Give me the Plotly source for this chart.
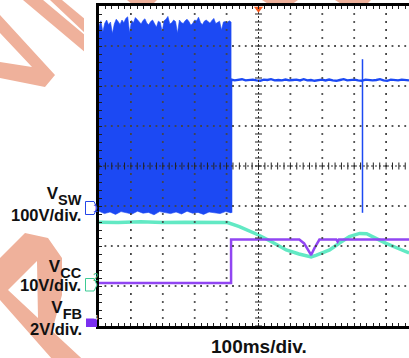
import numpy as np
import plotly.graph_objects as go

# ---------------- captured waveforms (time in ms, 100 ms/div) ----------------
T_STEP = 414  # end of the switching burst, VFB step

# VSW (CH1, 100 V/div): switching burst drawn as its envelope
vsw_burst_top = [455, 468, 440, 462, 470, 458, 465, 436, 460, 472, 466, 459, 470, 463,
                 474, 478, 438, 469, 463, 476, 471, 465, 460, 469, 473, 462, 458, 466,
                 470, 461, 452, 467, 464, 441, 468, 472, 479, 460, 463, 470, 466, 437,
                 470, 464, 461, 468, 472, 466, 457, 462, 470, 468, 477, 464, 458, 467,
                 470, 466, 462, 469, 474, 461, 463, 467, 445, 465, 466, 463, 468, 465]
vsw_burst_bottom = [-8, -14, -10, -16, -9, -12, -15, -8, -13, -11, -17, -9, -12,
                    -14, -10, -15, -8, -13, -11, -16, -10, -12, -14, -9, -12]
# VSW after the burst
vsw_after = [321, 319, 320, 322, 319, 320, 321, 319, 318, 321, 320, 322, 319, 320,
             319, 321, 319, 320, 321, 319, 322, 319, 320, 318, 320, 321, 319, 321,
             319, 318, 320, 322, 319, 320, 321, 319, 318, 321, 320, 319, 320, 322,
             319, 318, 321, 320, 319, 321, 320, 319]
vsw_spike_t = [826, 826]
vsw_spike_v = [372, -12]

# VCC (CH2, 10 V/div)
vcc_t = [0, 60, 130, 200, 270, 340, 403, 440, 472, 500, 541, 587, 627, 650, 665,
         680, 691, 723, 754, 785, 817, 839, 857, 900, 942, 972]
vcc_v = [15.7, 15.6, 15.8, 15.6, 15.7, 15.6, 15.6, 14.6, 13.5, 12.5, 10.8, 8.75,
         7.75, 7.3, 7.0, 7.4, 7.75, 8.75, 10.5, 12.1, 12.9, 12.8, 12.1, 10.4, 9.0, 8.0]

# VFB (CH4, 2 V/div)
vfb_t = [0, 414, 414, 628, 643, 657, 665, 675, 691, 744, 748, 752, 972]
vfb_v = [2.0, 2.0, 4.17, 4.17, 3.98, 3.65, 3.4, 3.73, 4.17, 4.17, 4.07, 4.17, 4.17]

# channel scale (V/div) and ground position (div from centre)
CH1 = (100.0, -1.05)
CH2 = (10.0, -2.975)
CH4 = (2.0, -3.925)


def to_div(values, ch):
    scale, offset = ch
    return [v / scale + offset for v in values]


# ---------------- page geometry ----------------
W, H = 409, 358
L, R, T, B = 99, 409, 6, 326
X_END = (R - L) / 31.9 * 100  # 31.9 px per division


def px_x(x):
    return (x - L) / (R - L)


def px_y(y):
    return (B - y) / (B - T)


def poly_path(*rings):
    parts = []
    for ring in rings:
        pts = [f"{px_x(x):.4f},{px_y(y):.4f}" for x, y in ring]
        parts.append("M" + " L".join(pts) + " Z")
    return " ".join(parts)


BLUE = "#1c49f3"
CYAN = "#62e9c4"
PURPLE = "#9146f2"
SALMON = "#efb19b"

fig = go.Figure()

# VCC
fig.add_trace(go.Scatter(x=vcc_t, y=to_div(vcc_v, CH2), mode="lines",
                         line=dict(color=CYAN, width=3.5), hoverinfo="skip"))
# VFB
fig.add_trace(go.Scatter(x=vfb_t, y=to_div(vfb_v, CH4), mode="lines",
                         line=dict(color=PURPLE, width=2.5), hoverinfo="skip"))

# VSW burst envelope
top_t = np.linspace(0, T_STEP, len(vsw_burst_top))
bot_t = np.linspace(0, T_STEP, len(vsw_burst_bottom))
burst_x = list(top_t) + list(bot_t[::-1])
burst_y = to_div(vsw_burst_top, CH1) + to_div(vsw_burst_bottom[::-1], CH1)
fig.add_trace(go.Scatter(x=burst_x, y=burst_y, mode="lines", fill="toself",
                         fillcolor=BLUE, line=dict(color=BLUE, width=0.6),
                         hoverinfo="skip"))
# VSW after burst
after_t = np.linspace(T_STEP, X_END, len(vsw_after))
fig.add_trace(go.Scatter(x=[T_STEP, T_STEP] + list(after_t),
                         y=to_div([vsw_burst_bottom[-1], vsw_after[0]] + vsw_after, CH1),
                         mode="lines", line=dict(color=BLUE, width=2.4),
                         hoverinfo="skip"))
fig.add_trace(go.Scatter(x=vsw_spike_t, y=to_div(vsw_spike_v, CH1), mode="lines",
                         line=dict(color=BLUE, width=1.5), hoverinfo="skip"))

# ---------------- graticule ----------------
gx, gy = [], []
for k in range(1, 10):
    if k == 5:
        continue
    for s in np.arange(-3.8, 3.81, 0.2):
        gx.append(100 * k)
        gy.append(s)
for j in range(-3, 4):
    if j == 0:
        continue
    for t in np.arange(20, X_END, 20):
        gx.append(t)
        gy.append(j)
fig.add_trace(go.Scatter(x=gx, y=gy, mode="markers", hoverinfo="skip",
                         marker=dict(symbol="square", size=1.8, color="#444444",
                                     line=dict(width=0))))
# centre axes with sub-division marks
cy = list(np.arange(-4, 4.01, 0.2))
fig.add_trace(go.Scatter(x=[500] * len(cy), y=cy, mode="lines+markers", hoverinfo="skip",
                         line=dict(color="#333333", width=1, dash="2px,2px"),
                         marker=dict(symbol="line-ew", size=5,
                                     line=dict(color="#222222", width=1))))
cx = list(np.arange(0, X_END, 20))
fig.add_trace(go.Scatter(x=cx, y=[0] * len(cx), mode="lines+markers", hoverinfo="skip",
                         line=dict(color="#333333", width=1, dash="2px,2px"),
                         marker=dict(symbol="line-ns", size=5,
                                     line=dict(color="#222222", width=1))))
# trigger position marker
fig.add_trace(go.Scatter(x=[500], y=[3.93], mode="markers", hoverinfo="skip",
                         cliponaxis=False,
                         marker=dict(symbol="triangle-down", size=8, color="#f4581c")))

# ---------------- background decoration ----------------
wm_rings = [
    [(0, 15), (55, 75), (45, 87), (0, 78), (0, 62), (32, 67), (0, 33)],
    [(23, 0), (43, 0), (86, 36), (86, 53)],
    [(50, 0), (62, 0), (86, 20), (86, 34)],
    [(127, 0), (157, 0), (152, 5), (133, 5)],
    [(262, 0), (298, 0), (291, 5), (270, 5)],
    [(335, 0), (371, 0), (366, 5), (343, 5)],
]
shapes = []
for ring in wm_rings:
    shapes.append(dict(type="path", xref="paper", yref="paper", layer="below",
                       path=poly_path(ring), fillcolor=SALMON, line=dict(width=0)))
shapes.append(dict(type="path", xref="paper", yref="paper", layer="below",
                   path=poly_path([(0, 258), (25, 233), (48, 238), (62, 258), (62, 295),
                                   (52, 331), (92, 368), (60, 368), (0, 300)],
                                  [(8, 290), (37, 261), (38, 318)]),
                   fillcolor=SALMON, line=dict(width=0)))
# screen area
shapes.append(dict(type="rect", xref="paper", yref="paper", layer="below",
                   x0=px_x(84), x1=px_x(W), y0=px_y(5), y1=px_y(H + 2),
                   fillcolor="white", line=dict(width=0)))
# channel ground markers
shapes.append(dict(type="path", xref="paper", yref="paper", layer="above",
                   path=poly_path([(85.5, 201.5), (94, 201.5), (97, 208), (94, 214.5), (85.5, 214.5)]),
                   fillcolor="white", line=dict(color="#2446e8", width=1)))
shapes.append(dict(type="path", xref="paper", yref="paper", layer="above",
                   path=poly_path([(85.5, 278.5), (94, 278.5), (97, 285), (94, 291), (85.5, 291)]),
                   fillcolor="white", line=dict(color="#3ccb95", width=1)))
shapes.append(dict(type="rect", xref="paper", yref="paper", layer="above",
                   x0=px_x(86), x1=px_x(97), y0=px_y(327), y1=px_y(318.5),
                   fillcolor="#7a2ff0", line=dict(width=0)))

FONT = "Liberation Sans, Arial, Helvetica, sans-serif"


def channel_label(name, index, scale_text, bottom_y, line_gap):
    """Two-line channel caption: V with a lowered index, then the V/div setting."""
    text = (f"<b><span style='font-size:17px'>{name}</span>"
            f"<span style='font-size:14.5px;baseline-shift:-6px'>{index}</span></b>"
            f"<br><b><span style='font-size:16.5px'>{scale_text}</span></b>")
    return dict(text=text, x=px_x(83), y=px_y(bottom_y), xref="paper", yref="paper",
                xanchor="right", yanchor="bottom", align="right", showarrow=False,
                borderpad=0,
                font=dict(family=FONT, size=line_gap / 1.3, color="#111111"))


annotations = [
    channel_label("V", "SW", "100V/div.", 224.5, 22),
    channel_label("V", "CC", "10V/div.", 295, 18.5),
    channel_label("V", "FB", "2V/div.", 338.5, 21.7),
    dict(text="<b>100ms/div.</b>", x=px_x(259), y=px_y(346), xref="paper", yref="paper",
         xanchor="center", yanchor="middle", showarrow=False,
         font=dict(family=FONT, size=19, color="#111111")),
    dict(text="1", x=px_x(90.5), y=px_y(208), xref="paper", yref="paper",
         showarrow=False, font=dict(family=FONT, size=10, color="#2446e8")),
    dict(text="2", x=px_x(90.5), y=px_y(285), xref="paper", yref="paper",
         showarrow=False, font=dict(family=FONT, size=10, color="#2fb985")),
    dict(text="4", x=px_x(91.5), y=px_y(322.5), xref="paper", yref="paper",
         showarrow=False, font=dict(family=FONT, size=7, color="white")),
]

axis_common = dict(showgrid=False, zeroline=False, showline=True, linecolor="black",
                   linewidth=2.5, ticks="inside", ticklen=3, tickwidth=1,
                   tickcolor="#222222", showticklabels=False, fixedrange=True,
                   tickmode="linear")

fig.update_layout(
    width=W, height=H, autosize=False,
    margin=dict(l=L, r=W - R, t=T, b=H - B),
    paper_bgcolor="white", plot_bgcolor="white",
    showlegend=False, shapes=shapes, annotations=annotations,
    xaxis=dict(range=[0, X_END], tick0=0, dtick=100, mirror="allticks",
               minor=dict(ticks="inside", tick0=0, dtick=20, ticklen=3,
                          tickcolor="#222222", tickwidth=1, showgrid=False),
               **axis_common),
    yaxis=dict(range=[-4, 4], tick0=0, dtick=1, mirror=False,
               minor=dict(ticks="inside", tick0=0, dtick=0.2, ticklen=3,
                          tickcolor="#222222", tickwidth=1, showgrid=False),
               **axis_common),
)

fig.write_html("out.html", config={"displayModeBar": False})
